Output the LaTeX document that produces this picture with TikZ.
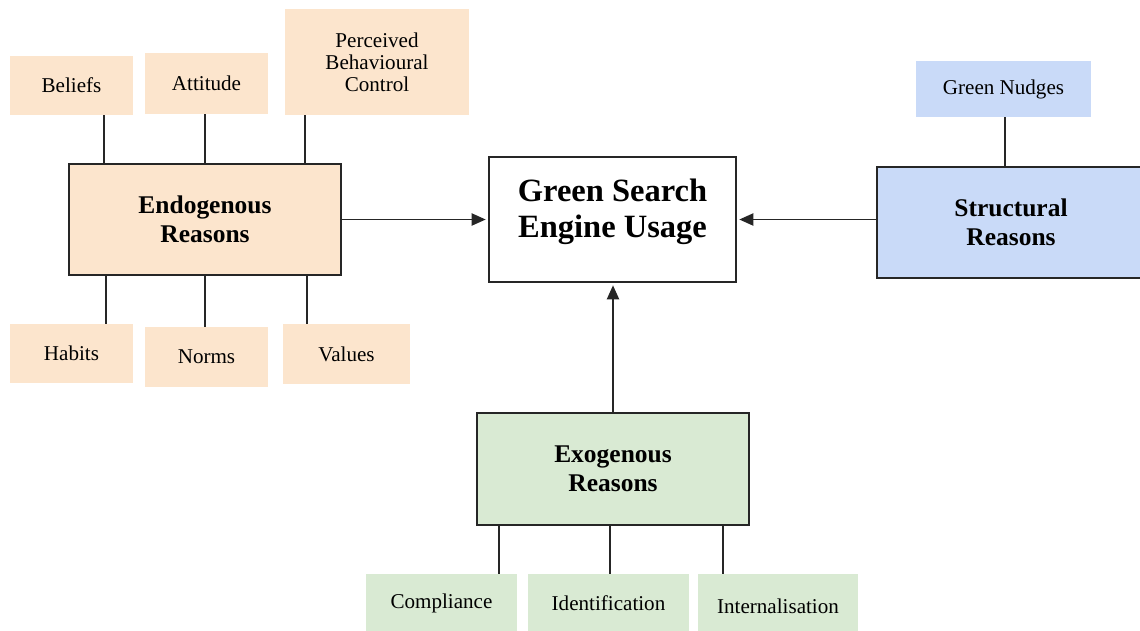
\documentclass[tikz,border=0pt]{standalone}
\usepackage{fontspec}
\setmainfont{Liberation Serif}
\usetikzlibrary{arrows.meta,positioning}
\definecolor{endocol}{HTML}{FCE5CD}
\definecolor{structcol}{HTML}{C9DAF8}
\definecolor{exocol}{HTML}{D9EAD3}
\begin{document}
\begin{tikzpicture}[x=0.02cm,y=-0.02cm,
  every node/.style={font=\fontsize{12}{12.5}\selectfont,align=center,inner sep=0pt},
  leaf/.style={rectangle,draw=none},
  hub/.style={rectangle,draw=black!85,line width=.8pt,font=\fontsize{14.5}{16.4}\selectfont\bfseries},
  conn/.style={line width=.8pt,black!85},
  arr/.style={conn,-{Triangle[length=8pt,width=7pt]},shorten >=1.5pt}]
\useasboundingbox (0,0) rectangle (1140,630);
% endogenous reasons
\node[leaf,fill=endocol,minimum width=123*0.02cm,minimum height=59*0.02cm] (beliefs) at (71.5,85.5) {Beliefs};
\node[leaf,fill=endocol,minimum width=123*0.02cm,minimum height=61*0.02cm] (attitude) at (206.5,83.5) {Attitude};
\node[leaf,fill=endocol,minimum width=184*0.02cm,minimum height=106*0.02cm] (pbc) at (377,62) {Perceived\\Behavioural\\Control};
\node[hub,fill=endocol,minimum width=272*0.02cm,minimum height=111*0.02cm] (endo) at (205,219.5) {Endogenous\\Reasons};
\node[leaf,fill=endocol,minimum width=123*0.02cm,minimum height=59*0.02cm] (habits) at (71.5,353.5) {Habits};
\node[leaf,fill=endocol,minimum width=123*0.02cm,minimum height=60*0.02cm] (norms) at (206.5,357) {Norms};
\node[leaf,fill=endocol,minimum width=127*0.02cm,minimum height=60*0.02cm] (values) at (346.5,354) {Values};
% centre
\node[hub,fill=white,minimum width=247*0.02cm,minimum height=125*0.02cm] (gseu) at (612.5,219.5) {};
\node[font=\fontsize{18.5}{20.7}\selectfont\bfseries] (gseutext) at (612.5,212) {Green Search\\Engine Usage};
% structural reasons
\node[leaf,fill=structcol,minimum width=175*0.02cm,minimum height=56*0.02cm] (nudges) at (1003.5,89) {Green Nudges};
\node[hub,fill=structcol,minimum width=268*0.02cm,minimum height=111*0.02cm] (struct) at (1011,222.5) {Structural\\Reasons};
% exogenous reasons
\node[hub,fill=exocol,minimum width=272*0.02cm,minimum height=112*0.02cm] (exo) at (613,469) {Exogenous\\Reasons};
\node[leaf,fill=exocol,minimum width=151*0.02cm,minimum height=58*0.02cm] (compl) at (441.5,603) {Compliance};
\node[leaf,fill=exocol,minimum width=161*0.02cm,minimum height=58*0.02cm] (ident) at (608.5,603) {Identification};
\node[leaf,fill=exocol,minimum width=160*0.02cm,minimum height=64*0.02cm] (intern) at (778,606) {Internalisation};
% tap positions
\coordinate (xb) at (104,0);
\coordinate (xa) at (205,0);
\coordinate (xp) at (305,0);
\coordinate (xh) at (106,0);
\coordinate (xn) at (205,0);
\coordinate (xv) at (307,0);
\coordinate (xg) at (1005,0);
\coordinate (xc) at (499,0);
\coordinate (xi) at (610,0);
\coordinate (xt) at (723,0);
\draw[conn] (beliefs.south -| xb) -- (endo.north -| xb);
\draw[conn] (attitude.south -| xa) -- (endo.north -| xa);
\draw[conn] (pbc.south -| xp) -- (endo.north -| xp);
\draw[conn] (endo.south -| xh) -- (habits.north -| xh);
\draw[conn] (endo.south -| xn) -- (norms.north -| xn);
\draw[conn] (endo.south -| xv) -- (values.north -| xv);
\draw[conn] (nudges.south -| xg) -- (struct.north -| xg);
\draw[conn] (exo.south -| xc) -- (compl.north -| xc);
\draw[conn] (exo.south -| xi) -- (ident.north -| xi);
\draw[conn] (exo.south -| xt) -- (intern.north -| xt);
% arrows
\draw[arr] (endo.east) -- (gseu.west);
\draw[arr] (struct.west |- gseu.east) -- (gseu.east);
\draw[arr] (exo.north) -- (exo.north |- gseu.south);
\end{tikzpicture}
\end{document}
